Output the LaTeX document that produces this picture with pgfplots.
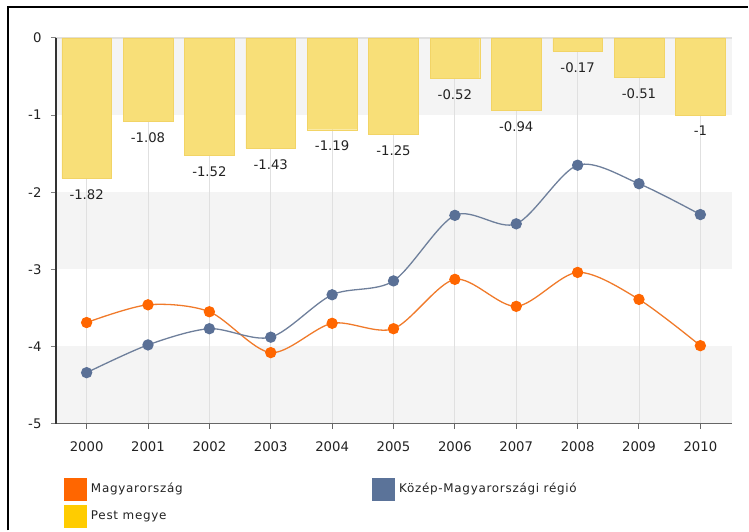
\documentclass[border=0pt]{standalone}
\usepackage{pgfplots}
\pgfplotsset{compat=1.18}
\usepackage{pgfplotstable}
\usepackage{fontspec}
\setmainfont{DejaVu Sans}
\newfontfamily\legfont[LetterSpace=6]{DejaVu Sans}
\definecolor{orng}{HTML}{FF6600}
\definecolor{orngline}{HTML}{F07A2A}
\definecolor{blu}{HTML}{5A7096}
\definecolor{bluline}{HTML}{6E7F9B}
\definecolor{baryel}{HTML}{F8DF78}
\definecolor{baredge}{HTML}{F2D466}
\definecolor{legyel}{HTML}{FFCC00}
\definecolor{legblu}{HTML}{5B7399}
\definecolor{band}{HTML}{F4F4F4}
\definecolor{gridc}{HTML}{E0E0E0}
\definecolor{txt}{HTML}{222222}

\pgfplotstableread{
x val lab
0 -1.82 -1.82
1 -1.08 -1.08
2 -1.52 -1.52
3 -1.43 -1.43
4 -1.19 -1.19
5 -1.25 -1.25
6 -0.52 -0.52
7 -0.94 -0.94
8 -0.17 -0.17
9 -0.51 -0.51
10 -1.00 -1
}\pest

\pgfplotstableread{
x val
0 -3.69
1 -3.46
2 -3.55
3 -4.08
4 -3.70
5 -3.77
6 -3.13
7 -3.48
8 -3.04
9 -3.39
10 -3.99
}\magyar

\pgfplotstableread{
x val
0 -4.34
1 -3.98
2 -3.77
3 -3.88
4 -3.33
5 -3.15
6 -2.30
7 -2.41
8 -1.65
9 -1.89
10 -2.29
}\kozep

\begin{document}
\begin{tikzpicture}
\path (0,0) rectangle (749bp,531bp);
\draw[line width=1.5bp, black] (8bp,0) -- (8bp,524bp) -- (749bp,524bp);
\begin{axis}[
  set layers,
  at={(56bp,107bp)}, anchor=south west,
  scale only axis, width=677bp, height=386bp,
  xmin=-0.5, xmax=10.52, ymin=-5, ymax=0,
  axis x line*=bottom, axis y line*=left,
  x axis line style={-, line width=1.6bp, color=black!60},
  y axis line style={-, line width=1.4bp, color=black!80},
  xtick={0,1,...,10},
  xticklabels={2000,2001,2002,2003,2004,2005,2006,2007,2008,2009,2010},
  ytick={0,-1,-2,-3,-4,-5},
  yticklabels={0,-1,-2,-3,-4,-5},
  tick align=outside, major tick length=5bp,
  xtick style={line width=1bp, color=black!60},
  ytick style={line width=1bp, color=black!50},
  xmajorgrids, grid style={gridc, line width=0.8bp},
  ticklabel style={font=\fontsize{13.3}{15}\selectfont, text=txt},
  xticklabel style={yshift=-10bp},
  yticklabel style={xshift=-6bp},
  clip=false,
  legend columns=2,
  legend style={at={(0.0118,-0.14)}, anchor=north west, draw=none, fill=none,
    font=\legfont\fontsize{12}{14}\selectfont, text=txt, row sep=5bp, inner sep=0pt,
    cells={anchor=west}},
]
\begin{pgfonlayer}{axis background}
\fill[band] (axis cs:-0.5,0) rectangle (axis cs:10.52,-1);
\fill[band] (axis cs:-0.5,-2) rectangle (axis cs:10.52,-3);
\fill[band] (axis cs:-0.5,-4) rectangle (axis cs:10.52,-5);
\draw[gridc, line width=1.2bp] (axis cs:-0.5,0) -- (axis cs:10.52,0);
\end{pgfonlayer}

\addlegendimage{legend image code/.code={\fill[orng] (0bp,-11bp) rectangle (22bp,11bp);}}
\addlegendentry{\makebox[282bp][l]{\hspace{2.5bp}Magyarország}}
\addlegendimage{legend image code/.code={\fill[legblu] (0bp,-11bp) rectangle (22bp,11bp);}}
\addlegendentry{\hspace{2.5bp}Közép-Magyarországi régió}
\addlegendimage{legend image code/.code={\fill[legyel] (0bp,-11bp) rectangle (22bp,11bp);}}
\addlegendentry{\hspace{2.5bp}Pest megye}

\addplot[ybar, bar width=0.81, fill=baryel, draw=baredge, forget plot,
  nodes near coords, point meta=explicit symbolic,
  every node near coord/.append style={anchor=north, font=\fontsize{13.3}{15}\selectfont,
    text=txt, inner sep=0pt, yshift=-11bp}]
  table[x=x, y=val, meta=lab] {\pest};

\addplot[smooth, color=orngline, line width=1.3bp, mark=*, mark size=5bp,
  mark options={fill=orng, draw=orng}, forget plot]
  table[x=x, y=val] {\magyar};
\addplot[smooth, color=bluline, line width=1.3bp, mark=*, mark size=5bp,
  mark options={fill=blu, draw=blu}, forget plot]
  table[x=x, y=val] {\kozep};
\end{axis}
\end{tikzpicture}
\end{document}
